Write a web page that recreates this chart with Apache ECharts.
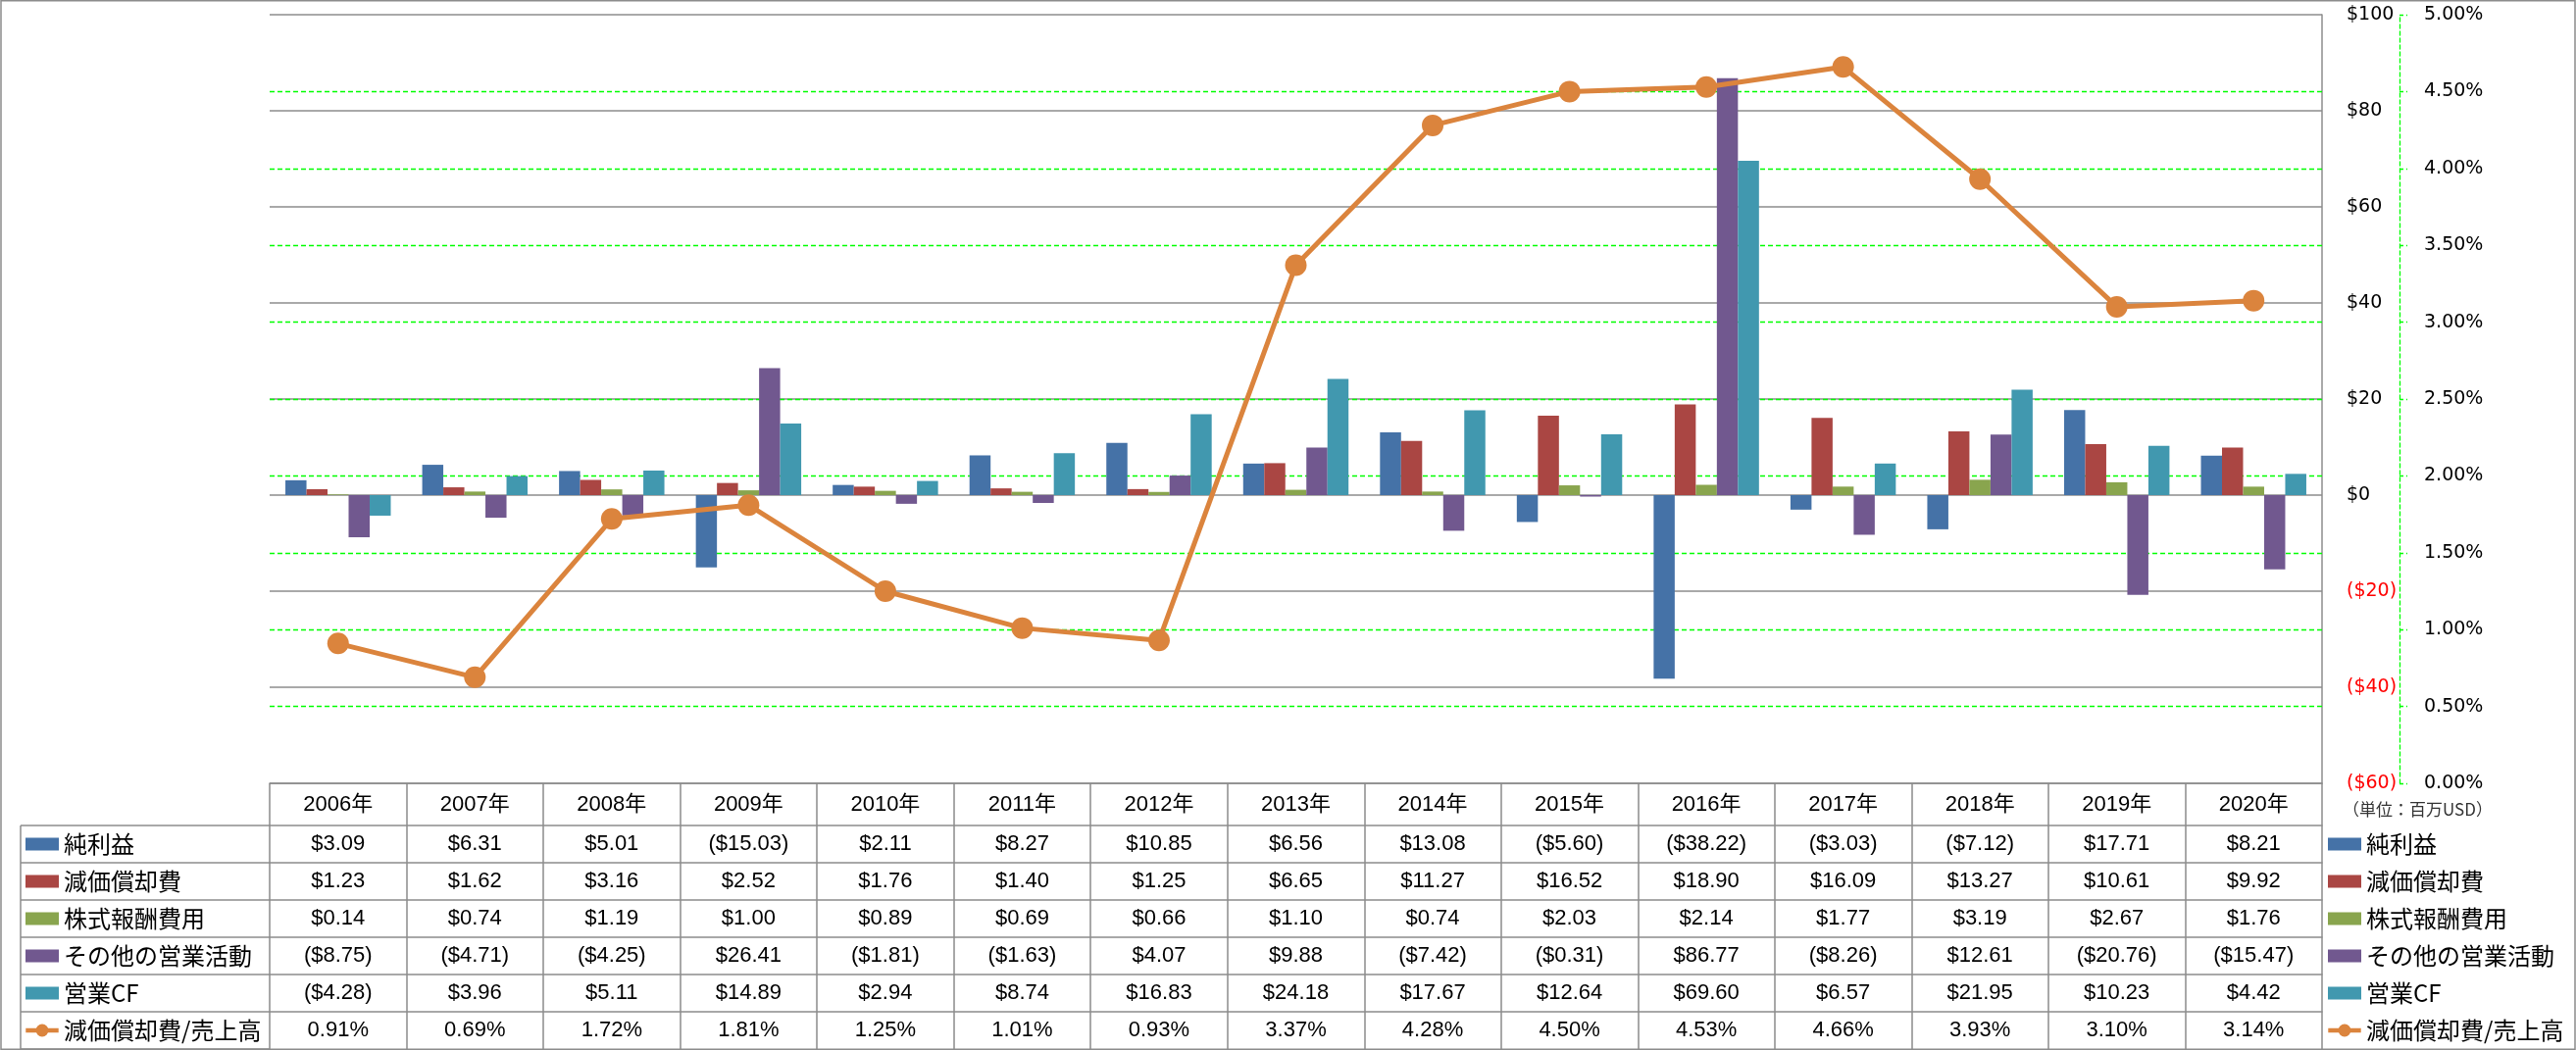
<!DOCTYPE html>
<html>
<head>
<meta charset="utf-8">
<script src="https://cdn.jsdelivr.net/npm/echarts@6/dist/echarts.min.js"></script>
<style>
html,body{margin:0;padding:0;background:#fff;}
#chart{width:2627px;height:1071px;}
</style>
</head>
<body>
<div id="chart"></div>
<script>
// ---- data ----
const years = ['2006年','2007年','2008年','2009年','2010年','2011年','2012年','2013年','2014年','2015年','2016年','2017年','2018年','2019年','2020年'];
const seriesNames = ['純利益','減価償却費','株式報酬費用','その他の営業活動','営業CF','減価償却費/売上高'];
const netIncome    = [3.09, 6.31, 5.01, -15.03, 2.11, 8.27, 10.85, 6.56, 13.08, -5.60, -38.22, -3.03, -7.12, 17.71, 8.21];
const depreciation = [1.23, 1.62, 3.16, 2.52, 1.76, 1.40, 1.25, 6.65, 11.27, 16.52, 18.90, 16.09, 13.27, 10.61, 9.92];
const stockComp    = [0.14, 0.74, 1.19, 1.00, 0.89, 0.69, 0.66, 1.10, 0.74, 2.03, 2.14, 1.77, 3.19, 2.67, 1.76];
const otherOps     = [-8.75, -4.71, -4.25, 26.41, -1.81, -1.63, 4.07, 9.88, -7.42, -0.31, 86.77, -8.26, 12.61, -20.76, -15.47];
const operatingCF  = [-4.28, 3.96, 5.11, 14.89, 2.94, 8.74, 16.83, 24.18, 17.67, 12.64, 69.60, 6.57, 21.95, 10.23, 4.42];
const depToSales   = [0.91, 0.69, 1.72, 1.81, 1.25, 1.01, 0.93, 3.37, 4.28, 4.50, 4.53, 4.66, 3.93, 3.10, 3.14];
const usdAxis = {min: -60, max: 100, interval: 20};
const pctAxis = {min: 0, max: 5, interval: 0.5};
const unitLabel = '（単位：百万USD）';

// ---- styling / layout ----
const colors = ['#4572A7', '#AA4643', '#89A54E', '#71588F', '#4198AF', '#DB843D'];
const GRID_L = 275, GRID_R = 2368, GRID_T = 15, GRID_B = 799;
const HEADER_H = 43, ROW_H = 38;
const LABEL_COL_L = 21;
const PCT_AXIS_OFFSET = 79;
const GRAY = '#8c8c8c';
const GREEN = '#00FF00';
const tableFont = "'Liberation Sans', 'Noto Sans CJK JP', sans-serif";
const cjkFont = "'Noto Sans CJK JP', sans-serif";
const axisFont = "'DejaVu Sans', sans-serif";

const fmtUSD = v => v < 0 ? '($' + (-v).toFixed(2) + ')' : '$' + v.toFixed(2);
const fmtPct = v => v.toFixed(2) + '%';

const barData = [netIncome, depreciation, stockComp, otherOps, operatingCF];
const rowStrings = barData.map(arr => arr.map(fmtUSD)).concat([depToSales.map(fmtPct)]);

// green % gridlines at each tick of the % axis (drawn through the axis scale as markLines)
const pctGridValues = [];
for (let k = 1; pctAxis.min + k * pctAxis.interval < pctAxis.max - 1e-9; k++) {
  pctGridValues.push(+(pctAxis.min + k * pctAxis.interval).toFixed(2));
}

// x axes: header row + one per table row
const xAxes = [{
  type: 'category', gridIndex: 0, data: years, position: 'bottom', offset: 0,
  axisLine: {show: true, onZero: false, lineStyle: {color: GRAY, width: 1.5}},
  axisTick: {show: true, interval: 0, length: HEADER_H, lineStyle: {color: GRAY, width: 1.5}},
  axisLabel: {interval: 0, margin: HEADER_H / 2, verticalAlign: 'middle', fontSize: 22, color: '#000', fontFamily: tableFont},
  splitLine: {show: false}, splitArea: {show: false}
}];
rowStrings.forEach((strs, i) => {
  xAxes.push({
    type: 'category', gridIndex: 0, data: years, position: 'bottom', offset: HEADER_H + i * ROW_H,
    axisLine: {show: true, onZero: false, lineStyle: {color: GRAY, width: 1.5}},
    axisTick: {show: true, interval: 0, length: ROW_H, lineStyle: {color: GRAY, width: 1.5}},
    axisLabel: {interval: 0, margin: ROW_H / 2, verticalAlign: 'middle', fontSize: 22, color: '#000', fontFamily: tableFont,
      formatter: (v, idx) => strs[idx]},
    splitLine: {show: false}, splitArea: {show: false}
  });
});

const series = barData.map((arr, i) => ({
  name: seriesNames[i], type: 'bar', xAxisIndex: 0, yAxisIndex: 0, data: arr,
  barGap: '0%', barCategoryGap: '23%', z: 3,
  itemStyle: {color: colors[i]}
}));
series.push({
  name: seriesNames[5], type: 'line', xAxisIndex: 0, yAxisIndex: 1, data: depToSales,
  symbol: 'circle', symbolSize: 22, z: 6,
  lineStyle: {color: colors[5], width: 5},
  itemStyle: {color: colors[5]}
});
// helper series carrying the green gridlines of the % axis, below the bars
series.push({
  name: '_pctGrid', type: 'line', xAxisIndex: 0, yAxisIndex: 1, data: [], z: 1, silent: true,
  markLine: {
    silent: true, symbol: 'none', z: 1, animation: false,
    label: {show: false},
    lineStyle: {color: GREEN, width: 1.3, type: [5, 3]},
    emphasis: {disabled: true},
    data: pctGridValues.map(v => ({yAxis: v}))
  }
});

// legend icon for the line series: thick line with a circle in the middle
const lineIcon = 'path://M0,4.6H36V9.4H0Z M25,7A7,7,0,1,1,11,7A7,7,0,1,1,25,7Z';
const legendData = seriesNames.map((n, i) => i < 5 ? {name: n, icon: 'rect'} : {name: n, icon: lineIcon, itemStyle: {color: colors[5]}});
const legendBase = {
  orient: 'vertical', top: GRID_B + HEADER_H + ROW_H / 2 - 12, padding: 0,
  itemWidth: 34, itemHeight: 13, itemGap: 14, selectedMode: false,
  textStyle: {fontSize: 24, color: '#000', fontFamily: cjkFont},
  data: legendData
};

// table lines in the label column
const tableLines = [];
for (let i = 0; i <= 6; i++) {
  const y = GRID_B + HEADER_H + i * ROW_H;
  tableLines.push({type: 'line', shape: {x1: LABEL_COL_L, y1: y, x2: GRID_L, y2: y}, style: {stroke: GRAY, lineWidth: 1.5}});
}
tableLines.push({type: 'line', shape: {x1: LABEL_COL_L, y1: GRID_B + HEADER_H, x2: LABEL_COL_L, y2: GRID_B + HEADER_H + 6 * ROW_H}, style: {stroke: GRAY, lineWidth: 1.5}});

const option = {
  animation: false,
  backgroundColor: '#fff',
  grid: {left: GRID_L, right: 2627 - GRID_R, top: GRID_T, bottom: 1071 - GRID_B, containLabel: false},
  xAxis: xAxes,
  yAxis: [{
    type: 'value', position: 'right', offset: 0,
    min: usdAxis.min, max: usdAxis.max, interval: usdAxis.interval,
    axisLine: {show: true, onZero: false, lineStyle: {color: GRAY, width: 1.5}},
    axisTick: {show: false},
    splitLine: {show: true, lineStyle: {color: GRAY, width: 1.5}},
    axisLabel: {margin: 25, fontSize: 19, fontFamily: axisFont,
      color: v => (v < 0 ? '#FF0000' : '#000'),
      formatter: v => v < 0 ? '($' + (-v) + ')' : '$' + v}
  }, {
    type: 'value', position: 'right', offset: PCT_AXIS_OFFSET,
    min: pctAxis.min, max: pctAxis.max, interval: pctAxis.interval,
    axisLine: {show: true, onZero: false, lineStyle: {color: GREEN, width: 1.3, type: [4, 3]}},
    axisTick: {show: true, length: 8, lineStyle: {color: GREEN, width: 1.3, type: [4, 3]}},
    splitLine: {show: false},
    axisLabel: {margin: 25, fontSize: 19, fontFamily: axisFont, color: '#000',
      formatter: v => v.toFixed(2) + '%'}
  }],
  legend: [
    Object.assign({}, legendBase, {left: 26}),
    Object.assign({}, legendBase, {left: 2374})
  ],
  graphic: [
    {type: 'rect', shape: {x: 1, y: 0.75, width: 2625, height: 1069.5}, style: {fill: 'none', stroke: GRAY, lineWidth: 1.5}, silent: true},
    {type: 'text', left: 2389, top: 817, style: {text: unitLabel, fontSize: 17, fontFamily: cjkFont, fill: '#333'}}
  ].concat(tableLines),
  series: series
};

const chart = echarts.init(document.getElementById('chart'), null, {renderer: 'canvas'});
chart.setOption(option);
</script>
</body>
</html>
